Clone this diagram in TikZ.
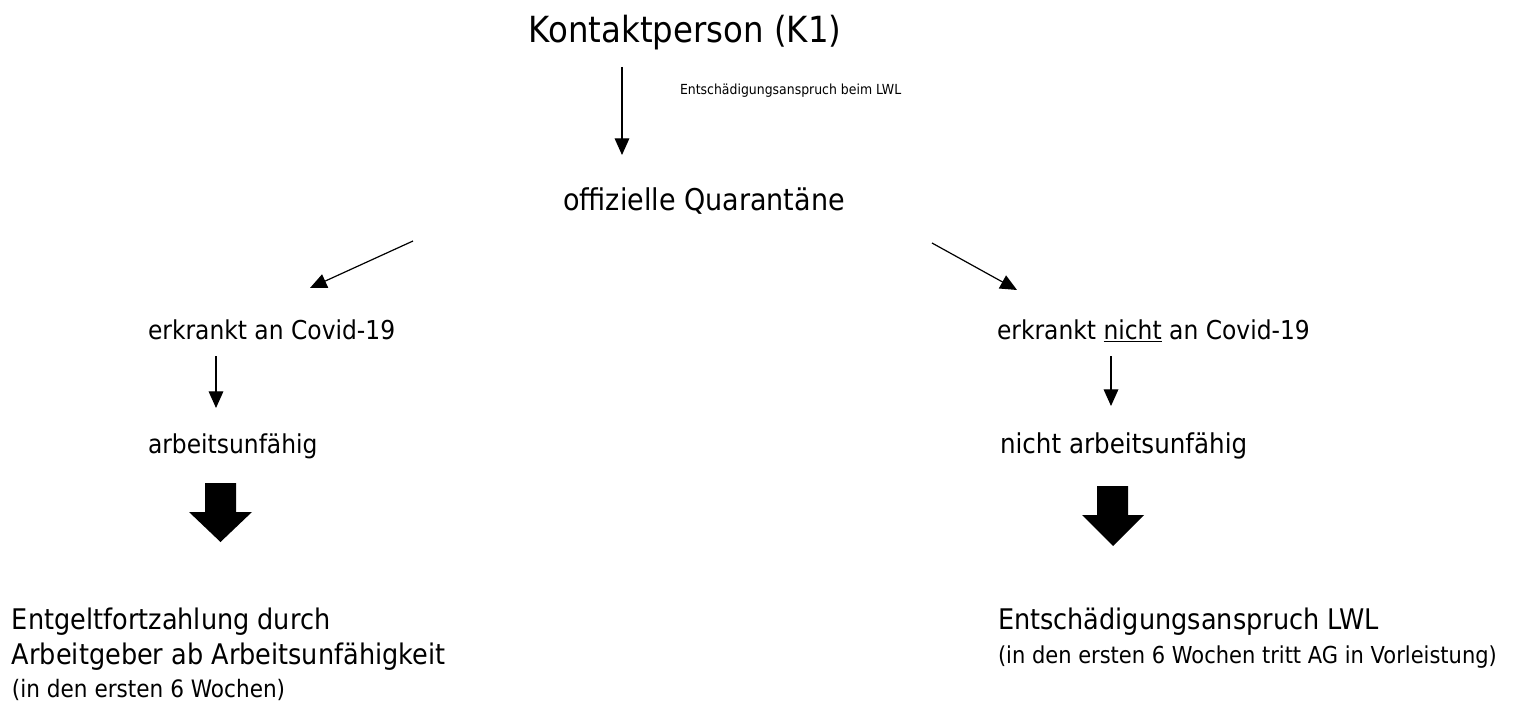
\documentclass[tikz,border=0pt]{standalone}
\usepackage{fontspec}
\setmainfont{DejaVu Sans}[FakeStretch=0.9]
\usetikzlibrary{arrows.meta}
\tikzset{
  txt/.style={inner sep=0pt, outer sep=0pt, text=black},
  big/.style={txt, font=\fontsize{27}{32}\selectfont},
  mid/.style={txt, font=\fontsize{22.5}{27}\selectfont},
  norm/.style={txt, font=\fontsize{19.5}{24}\selectfont},
  normb/.style={txt, font=\fontsize{20.5}{24}\selectfont},
  bottom/.style={txt, font=\fontsize{21.3}{26}\selectfont},
  low/.style={txt, font=\fontsize{17.5}{21}\selectfont},
  lowb/.style={txt, font=\fontsize{18}{21}\selectfont},
  tiny/.style={txt, font=\fontsize{10.4}{12}\selectfont},
  conn/.style={line width=0.9pt, -{Triangle[length=12.5pt,width=11pt]}},
  block/.style={fill=black, draw=none}
}
\begin{document}
\begin{tikzpicture}[x=0.75pt, y=-0.75pt]
\useasboundingbox (0,0) rectangle (1513,706);
% texts
\node[big, anchor=base] (k1) at (685,43) {Kontaktperson (K1)};
\node[tiny, anchor=base west] (lbl) at (680,95) {Entschädigungsanspruch beim LWL};
\node[mid, anchor=base] (q) at (704,210) {offizielle Quarantäne};
\node[norm, anchor=base west] (ek) at (148,339) {erkrankt an Covid-19};
\node[norm, anchor=base west] (nek) at (997,339) {erkrankt \underline{nicht} an Covid-19};
\node[norm, anchor=base west] (au) at (148,453) {arbeitsunfähig};
\node[normb, anchor=base west] (nau) at (1000,453) {nicht arbeitsunfähig};
\node[bottom, anchor=base west] (ef1) at (12,629) {Entgeltfortzahlung durch};
\node[bottom, anchor=base west] (ef2) at (12,664) {Arbeitgeber ab Arbeitsunfähigkeit};
\node[lowb, anchor=base west] (ef3) at (12,697) {(in den ersten 6 Wochen)};
\node[bottom, anchor=base west] (ea1) at (998,629) {Entschädigungsanspruch LWL};
\node[low, anchor=base west] (ea2) at (998,663) {(in den ersten 6 Wochen tritt AG in Vorleistung)};
% connector end points
\coordinate (a1s) at (622,67);
\coordinate (a1e) at (622,155);
\coordinate (dls) at (413,241);
\coordinate (dle) at (310,288);
\coordinate (drs) at (932,243);
\coordinate (dre) at (1017,290);
\coordinate (sls) at (216,356);
\coordinate (sle) at (216,408);
\coordinate (srs) at (1111,356);
\coordinate (sre) at (1111,406);
% connectors
\draw[conn] (a1s) -- (a1e);
\draw[conn] (dls) -- (dle);
\draw[conn] (drs) -- (dre);
\draw[conn] (sls) -- (sle);
\draw[conn] (srs) -- (sre);
% block arrows
\fill[block] (205,483) -- (236,483) -- (236,512) -- (252,512) -- (220.5,542) -- (189,512) -- (205,512) -- cycle;
\fill[block] (1097,486) -- (1128,486) -- (1128,515) -- (1144,515) -- (1113,546) -- (1082,515) -- (1097,515) -- cycle;
\end{tikzpicture}
\end{document}
